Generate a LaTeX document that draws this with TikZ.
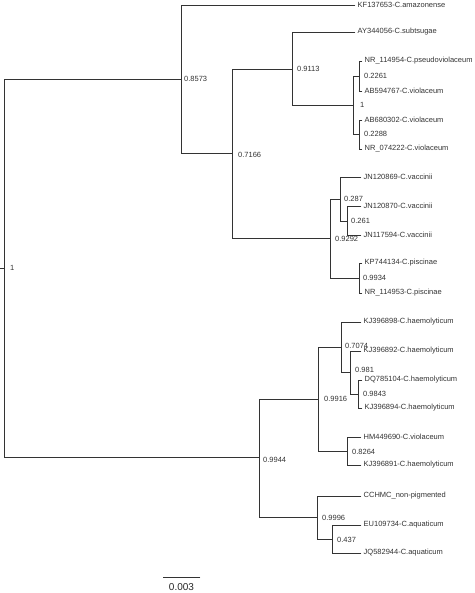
\documentclass[tikz,border=0pt]{standalone}
\usepackage{fontspec}
\setmainfont{Liberation Sans}
\tikzset{
  branch/.style={draw=black!80, line width=0.8pt},
  leaf/.style={anchor=west, inner sep=2.5pt, text=black!80},
  supp/.style={anchor=west, inner sep=0pt, text=black!80},
}
\begin{document}
\begin{tikzpicture}[x=1pt, y=-1pt, font=\fontsize{7.5}{9}\selectfont, line join=miter, line
        cap=rect]
        \useasboundingbox (0,0) rectangle (474,593);
        \path
        (0,268) coordinate (stub)
        (4,268) coordinate (root)
        (181,79) coordinate (nA)
        (232,153) coordinate (nB)
        (292,69) coordinate (nC)
        (353,105) coordinate (nD)
        (359,76) coordinate (nD1)
        (359,134) coordinate (nD2)
        (330,238) coordinate (nE)
        (340,199) coordinate (nE1)
        (347,221) coordinate (nE2)
        (359,278) coordinate (nE3)
        (259,457) coordinate (nF)
        (318,399) coordinate (nG)
        (341,347) coordinate (nG1)
        (350,372) coordinate (nG2)
        (358,394) coordinate (nG3)
        (347,451) coordinate (nG4)
        (317,517) coordinate (nH)
        (332,539) coordinate (nH1)
        ;
        %\draw[gray!0] (0,0) grid[step=50] (474,593);
        % leaves
        \node[leaf] (kf137653) at (355,5) {KF137653-C.amazonense};
        \node[leaf] (ay344056) at (355,32) {AY344056-C.subtsugae};
        \node[leaf] (nr114954) at (362,61) {NR\_114954-C.pseudoviolaceum};
        \node[leaf] (ab594767) at (362,91) {AB594767-C.violaceum};
        \node[leaf] (ab680302) at (362,120) {AB680302-C.violaceum};
        \node[leaf] (nr074222) at (362,149) {NR\_074222-C.violaceum};
        \node[leaf] (jn120869) at (361,177) {JN120869-C.vaccinii};
        \node[leaf] (jn120870) at (361,206) {JN120870-C.vaccinii};
        \node[leaf] (jn117594) at (361,235) {JN117594-C.vaccinii};
        \node[leaf] (kp744134) at (362,263) {KP744134-C.piscinae};
        \node[leaf] (nr114953) at (362,293) {NR\_114953-C.piscinae};
        \node[leaf] (kj396898) at (361,322) {KJ396898-C.haemolyticum};
        \node[leaf] (kj396892) at (361,351) {KJ396892-C.haemolyticum};
        \node[leaf] (dq785104) at (362,380) {DQ785104-C.haemolyticum};
        \node[leaf] (kj396894) at (362,408) {KJ396894-C.haemolyticum};
        \node[leaf] (hm449690) at (361,437) {HM449690-C.violaceum};
        \node[leaf] (kj396891) at (361,465) {KJ396891-C.haemolyticum};
        \node[leaf] (cchmc) at (361,496) {CCHMC\_non-pigmented};
        \node[leaf] (eu109734) at (361,525) {EU109734-C.aquaticum};
        \node[leaf] (jq582944) at (361,553) {JQ582944-C.aquaticum};
        % branches
        \draw[branch] (stub) -- (root);
        \draw[branch] (root) |- (nA) (root) |- (nF);
        \draw[branch] (nA) |- (kf137653.west) (nA) |- (nB);
        \draw[branch] (nB) |- (nC) (nB) |- (nE);
        \draw[branch] (nC) |- (ay344056.west) (nC) |- (nD);
        \draw[branch] (nD) |- (nD1) (nD) |- (nD2);
        \draw[branch] (nD1) |- (nr114954.west) (nD1) |- (ab594767.west);
        \draw[branch] (nD2) |- (ab680302.west) (nD2) |- (nr074222.west);
        \draw[branch] (nE) |- (nE1) (nE) |- (nE3);
        \draw[branch] (nE1) |- (jn120869.west) (nE1) |- (nE2);
        \draw[branch] (nE2) |- (jn120870.west) (nE2) |- (jn117594.west);
        \draw[branch] (nE3) |- (kp744134.west) (nE3) |- (nr114953.west);
        \draw[branch] (nF) |- (nG) (nF) |- (nH);
        \draw[branch] (nG) |- (nG1) (nG) |- (nG4);
        \draw[branch] (nG1) |- (kj396898.west) (nG1) |- (nG2);
        \draw[branch] (nG2) |- (kj396892.west) (nG2) |- (nG3);
        \draw[branch] (nG3) |- (dq785104.west) (nG3) |- (kj396894.west);
        \draw[branch] (nG4) |- (hm449690.west) (nG4) |- (kj396891.west);
        \draw[branch] (nH) |- (cchmc.west) (nH) |- (nH1);
        \draw[branch] (nH1) |- (eu109734.west) (nH1) |- (jq582944.west);
        % support values
        \node[supp] (sRoot) at (10,268) {1};
        \node[supp] (sA) at (184,79) {0.8573};
        \node[supp] (sB) at (238,155) {0.7166};
        \node[supp] (sC) at (297,69) {0.9113};
        \node[supp] (sD) at (360,105) {1};
        \node[supp] (sD1) at (364,76) {0.2261};
        \node[supp] (sD2) at (364,134) {0.2288};
        \node[supp] (sE) at (335,239) {0.9292};
        \node[supp] (sE1) at (344,199) {0.287};
        \node[supp] (sE2) at (351,221) {0.261};
        \node[supp] (sE3) at (363,278) {0.9934};
        \node[supp] (sF) at (263,460) {0.9944};
        \node[supp] (sG) at (324,399) {0.9916};
        \node[supp] (sG1) at (345,346) {0.7074};
        \node[supp] (sG2) at (355,370) {0.981};
        \node[supp] (sG3) at (363,394) {0.9843};
        \node[supp] (sG4) at (352,452) {0.8264};
        \node[supp] (sH) at (322,518) {0.9996};
        \node[supp] (sH1) at (337,540) {0.437};
        % scale bar
        \coordinate (bar1) at (163,577);
        \coordinate (bar2) at (200,577);
        \draw[branch] (bar1) -- (bar2);
        \node[inner sep=0pt, text=black!85, font=\fontsize{10}{12}\selectfont] (scale) at (181.5,587.5) {0.003};

    \end{tikzpicture}
\end{document}
